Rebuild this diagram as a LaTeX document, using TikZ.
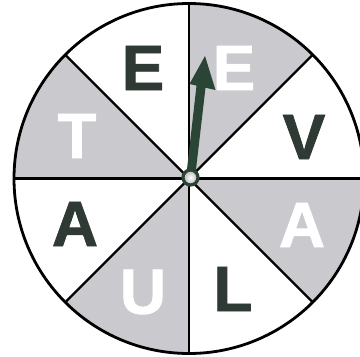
\documentclass[tikz,border=0pt]{standalone}
\usepackage{fontspec}
\setmainfont{Liberation Sans}
\newfontfamily\letterfont[FakeBold=1.2]{Liberation Sans Bold}
\definecolor{sectorgray}{RGB}{201,201,206}
\definecolor{lettergreen}{RGB}{48,58,53}
\definecolor{arrowgreen}{RGB}{42,68,54}
\tikzset{
  spoke/.style={line width=2.2pt, draw=black},
  rim/.style={line width=2.8pt, draw=black},
  letterbase/.style={inner sep=0pt, font=\letterfont\fontsize{64}{64}\selectfont},
  darkletter/.style={letterbase, text=lettergreen},
  lightletter/.style={letterbase, text=white},
  hub/.style={circle, minimum size=15pt, inner sep=0pt, draw=arrowgreen, line width=3.2pt, inner color=white, outer color=black!30},
  pointer/.style={fill=arrowgreen}
}
\begin{document}
\begin{tikzpicture}[x=1pt,y=-1pt]
\useasboundingbox (0,0) rectangle (360,357);
\clip (0,0) rectangle (360,357);
\coordinate (c) at (189,178.5);
\def\R{175}
\foreach \a in {-90,-180,-270,-360}
  \fill[sectorgray] (c) -- ++(\a:\R) arc[start angle=\a, delta angle=45, radius=\R] -- cycle;
\foreach \a in {0,45,...,315}
  \draw[spoke] (c) -- ++(\a:\R);
\draw[rim] (c) circle[radius=\R];
% letters
\node[darkletter]  (e1) at (143,68)  {E};
\node[lightletter] (e2) at (234,68)  {E};
\node[darkletter]  (v)  at (304,137) {V};
\node[lightletter] (a1) at (302,225) {A};
\node[darkletter]  (l)  at (233,289) {L};
\node[lightletter] (u)  at (143,292) {U};
\node[darkletter]  (a2) at (75,224)  {A};
\node[lightletter] (t)  at (77,136)  {T};
% pointer
\coordinate (tip) at (205,56);
\coordinate (hl) at (189.5,84);
\coordinate (hr) at (215.5,90);
\coordinate (sl) at (196.5,85.6);
\coordinate (sr) at (205.5,87.7);
\coordinate (bl) at (186,178);
\coordinate (br) at (195,178);
\fill[pointer] (bl) -- (sl) -- (hl) -- (tip) -- (hr) -- (sr) -- (br) -- cycle;
\node[hub] (hubnode) at (190.5,177.5) {};
\end{tikzpicture}
\end{document}
